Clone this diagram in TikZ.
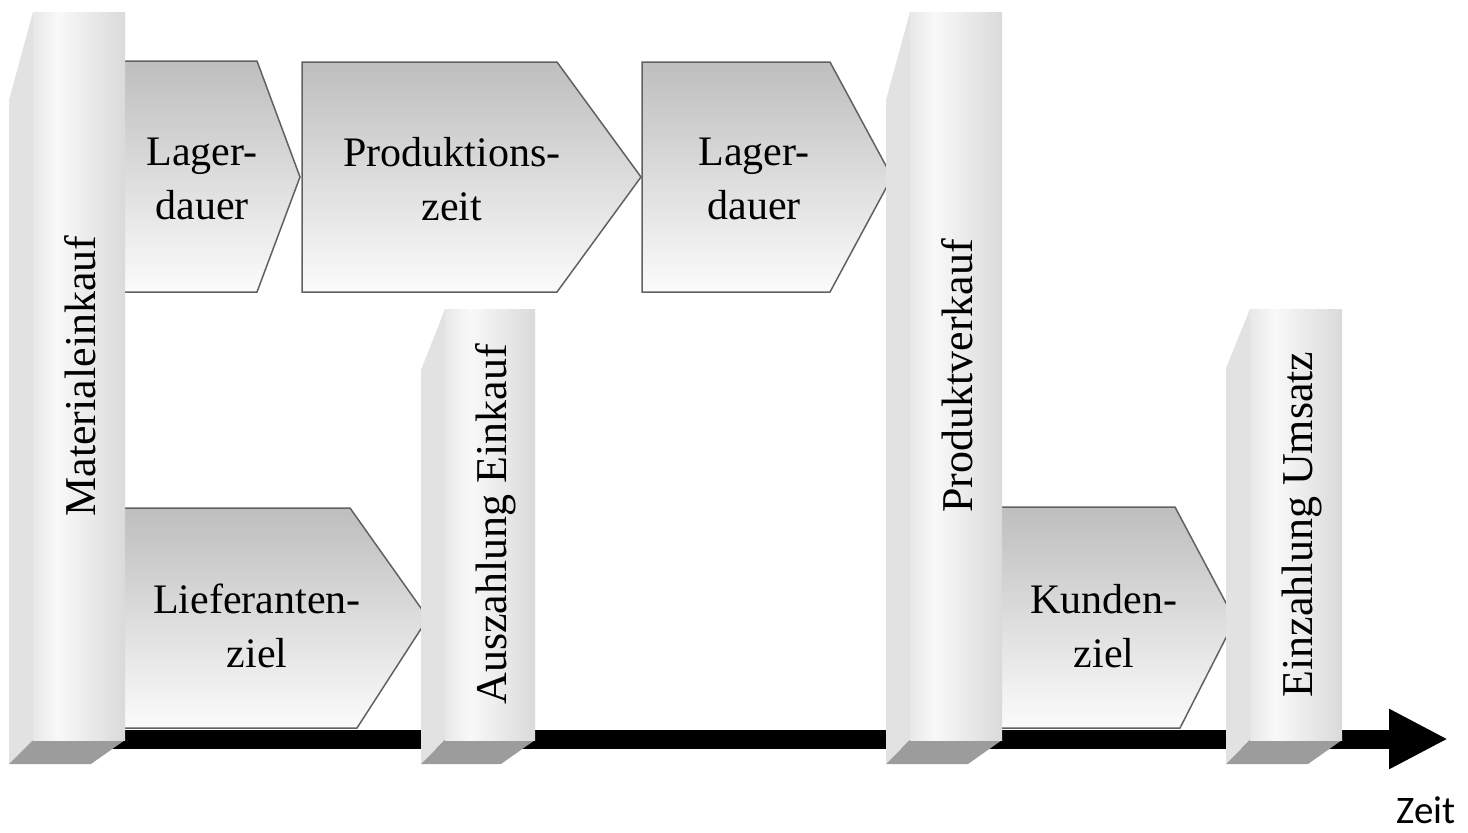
\documentclass[tikz,border=0pt]{standalone}
\usepackage{fontspec}
\setmainfont{Liberation Serif}
\newfontfamily\zeitfont{Carlito}
\usetikzlibrary{arrows.meta}
\definecolor{sidec}{gray}{0.886}
\definecolor{botc}{gray}{0.61}
\definecolor{frl}{gray}{0.91}
\definecolor{frh}{gray}{0.975}
\definecolor{frr}{gray}{0.855}
\definecolor{chtop}{gray}{0.745}
\definecolor{chbot}{gray}{0.985}
\definecolor{chline}{gray}{0.38}
\tikzset{
  chev/.style={draw=chline, line width=1.5pt, top color=chtop, bottom color=chbot, line join=miter},
  chevlabel/.style={font=\fontsize{42}{54}\selectfont, align=center, inner sep=0pt},
  plabel/.style={font=\fontsize{44}{52}\selectfont, rotate=90, anchor=base, inner sep=0pt},
  zeitlabel/.style={font=\zeitfont\fontsize{39}{46}\selectfont, anchor=base, inner sep=0pt},
  timeaxis/.style={line width=19pt, -{Triangle[length=59pt,width=56pt]}}
}
% #1 left of front face, #2 right of front face, #3 top, #4 top of side face, #5 name, #6 text
\newcommand{\mypillar}[6]{%
  \fill[sidec] (#1-24,764) -- (#1-24,#4) -- (#1,#3) -- (#1,740) -- cycle;
  \fill[botc] (#1-24,764) -- (#2-34,764) -- (#2,740) -- (#1,740) -- cycle;
  \shade[left color=frl, right color=frh] (#1,#3) rectangle (#1+25,740);
  \shade[left color=frh, right color=frr] (#1+24.5,#3) rectangle (#2,740);
  \node[plabel] (#5) at ({(#1+#2)/2+16},{(#3+740)/2}) {#6};
}
\begin{document}
\begin{tikzpicture}[x=1pt,y=-1pt]
\useasboundingbox (0,0) rectangle (1468,833);
% time axis
\coordinate (tstart) at (60,739);
\coordinate (tend) at (1448,739);
\draw[timeaxis] (tstart) -- (tend);
\node[zeitlabel] (zeit) at (1426,823) {Zeit};
% chevrons
\path[chev] (120,61) -- (257,61) -- (300,177) -- (257,292) -- (120,292) -- cycle;
\path[chev] (302,62) -- (557,62) -- (641,177) -- (557,292) -- (302,292) -- cycle;
\path[chev] (642,62) -- (830,62) -- (892,177) -- (830,292) -- (642,292) -- cycle;
\path[chev] (120,508) -- (350,508) -- (428,618) -- (357,728) -- (120,728) -- cycle;
\path[chev] (998,507) -- (1175,507) -- (1235,620) -- (1180,728) -- (998,728) -- cycle;
\node[chevlabel] (lager1) at (202,179) {Lager-\\dauer};
\node[chevlabel] (prod) at (452,179) {Produktions-\\zeit};
\node[chevlabel] (lager2) at (754,179) {Lager-\\dauer};
\node[chevlabel] (liefer) at (257,626) {Lieferanten-\\ziel};
\node[chevlabel] (kunden) at (1104,626) {Kunden-\\ziel};
% pillars
\mypillar{33}{125}{12}{100}{matein}{Materialeinkauf}
\mypillar{445}{535}{309}{370}{auszahl}{Auszahlung Einkauf}
\mypillar{910}{1002}{12}{100}{prodverk}{Produktverkauf}
\mypillar{1250}{1342}{309}{368}{einzahl}{Einzahlung Umsatz}
\end{tikzpicture}
\end{document}
